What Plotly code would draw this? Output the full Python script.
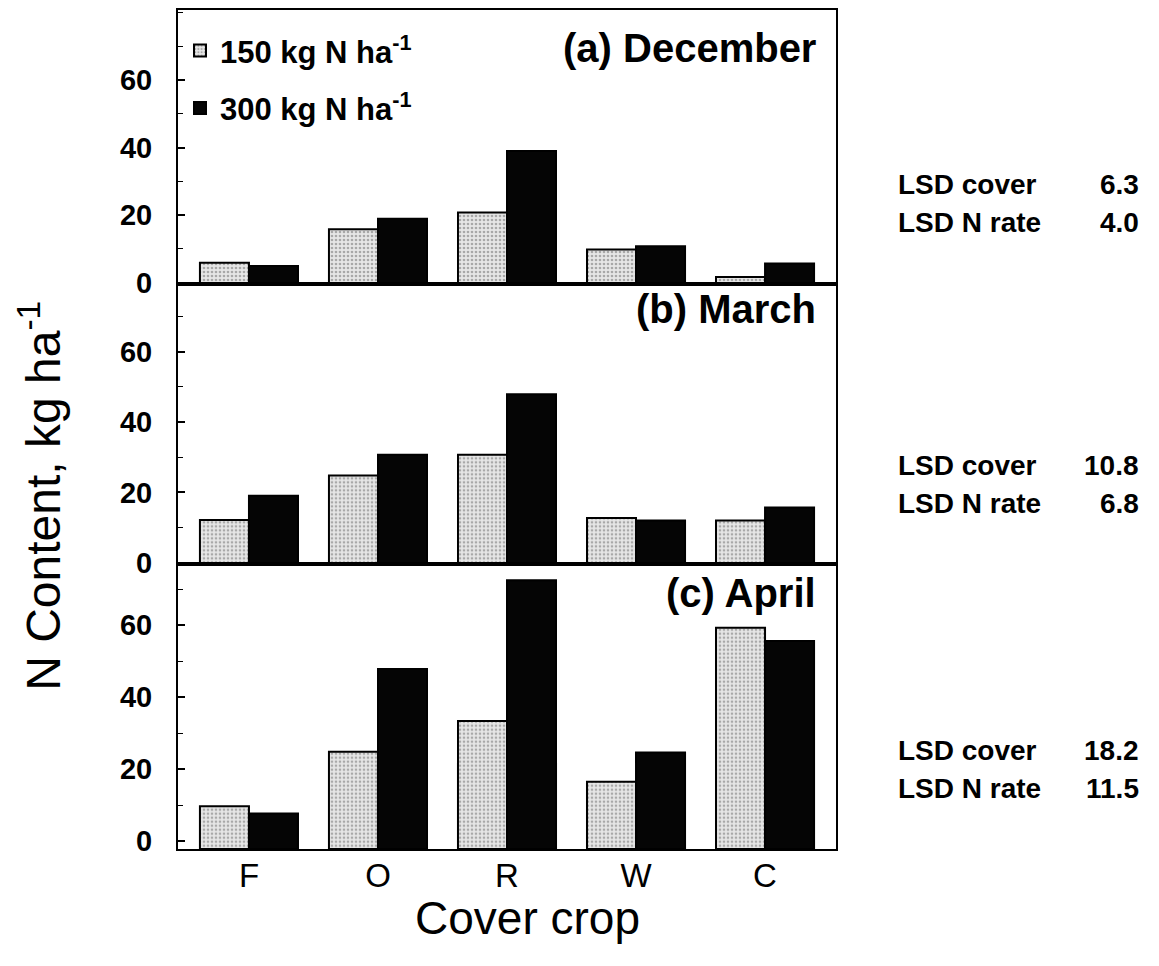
import plotly.graph_objects as go

# ---------------- data ----------------
categories = ["F", "O", "R", "W", "C"]
series_names = ["150 kg N ha<sup>-1</sup>", "300 kg N ha<sup>-1</sup>"]
panel_titles = ["(a) December", "(b) March", "(c) April"]

dec_150 = [5.9, 15.8, 20.8, 9.8, 1.7]
dec_300 = [4.9, 18.9, 39.0, 10.8, 5.7]
mar_150 = [12.1, 24.8, 30.7, 12.7, 12.0]
mar_300 = [19.0, 30.7, 47.9, 12.0, 15.7]
apr_150 = [9.7, 24.8, 33.4, 16.5, 59.3]
apr_300 = [7.7, 47.8, 72.5, 24.6, 55.6]

lsd_cover = [6.3, 10.8, 18.2]
lsd_nrate = [4.0, 6.8, 11.5]

y_ticks = [0, 20, 40, 60]

# ---------------- layout geometry ----------------
S = 8  # page offset of the figure inside the browser window
W, H = 1159 - S, 966 - S
L, R, T, B = 178 - S, 836 - S, 0, 849 - S
pw, ph = R - L, B - T
panel_px = [(5, 283), (283, 563), (563, 849)]          # reference pixel rows
y_ranges = [(-0.5, 80.7), (-0.3, 79.2), (-2.2, 77.1)]
title_y_px = [46, 308, 592]

def py(p):
    p = max(p - S, 0)
    return (B - p) / ph

def px(p):
    return (p - S - L) / pw

FONT = "Liberation Sans"
fig = go.Figure()

panel_data = [(dec_150, dec_300), (mar_150, mar_300), (apr_150, apr_300)]
styles = [
    dict(color="#dcdcdc", line=dict(color="black", width=2),
         pattern=dict(shape=".", fgcolor="#6a6a6a", bgcolor="#e6e6e6", size=4, solidity=0.35)),
    dict(color="#050505", line=dict(color="black", width=2)),
]

for i, (s150, s300) in enumerate(panel_data):
    xa = "x" if i == 0 else f"x{i+1}"
    ya = "y" if i == 0 else f"y{i+1}"
    ymin = y_ranges[i][0]
    for j, vals in enumerate((s150, s300)):
        fig.add_trace(go.Bar(
            x=categories, y=[v - ymin for v in vals], base=ymin,
            name=series_names[j], marker=styles[j],
            showlegend=(i == 0), legendgroup=f"g{j}",
            xaxis=xa, yaxis=ya,
            customdata=vals, hovertemplate="%{x}: %{customdata}<extra></extra>",
        ))

axis_common = dict(showline=True, mirror=True, linecolor="black", linewidth=2,
                   showgrid=False, zeroline=False)

layout = dict(
    width=W, height=H,
    margin=dict(l=L, r=W - R, t=T, b=H - B),
    paper_bgcolor="white", plot_bgcolor="white",
    barmode="group", bargap=0.24, bargroupgap=0.0,
    font=dict(family=FONT, color="black"),
    legend=dict(x=px(180), y=py(22), xanchor="left", yanchor="top",
                font=dict(family=FONT, size=31, color="black", weight="bold"),
                bgcolor="rgba(0,0,0,0)", tracegroupgap=14, itemwidth=30),
    showlegend=True,
)

for i in range(3):
    top, bot = panel_px[i]
    xk = "xaxis" if i == 0 else f"xaxis{i+1}"
    yk = "yaxis" if i == 0 else f"yaxis{i+1}"
    ya = "y" if i == 0 else f"y{i+1}"
    layout[xk] = dict(axis_common, range=[-0.55, 4.55], anchor=ya,
                      domain=[0, 1], ticks="",
                      showticklabels=(i == 2),
                      tickfont=dict(family=FONT, size=33, color="black"),
                      ticklabelstandoff=-4)
    if i > 0:
        layout[xk]["matches"] = "x"
    layout[yk] = dict(axis_common, range=list(y_ranges[i]),
                      domain=[max(py(bot), 0), min(py(top), 1)],
                      anchor="x" if i == 0 else f"x{i+1}",
                      tickvals=y_ticks, ticks="inside", ticklen=7, tickwidth=1.5,
                      tickcolor="black",
                      minor=dict(dtick=10, tick0=0, ticks="inside", ticklen=5, tickwidth=1.2, tickcolor="black"),
                      tickfont=dict(family=FONT, size=29, color="black", weight="bold"),
                      ticklabelstandoff=18)

fig.update_layout(**layout)

# panel titles
for i in range(3):
    fig.add_annotation(text=panel_titles[i], xref="paper", yref="paper",
                       x=px(818), y=py(title_y_px[i]), xanchor="right", yanchor="middle",
                       showarrow=False, font=dict(family=FONT, size=40, color="black", weight="bold"))

# LSD texts
lsd_rows_px = [(183, 221), (465, 503), (750, 788)]
for i in range(3):
    y1, y2 = lsd_rows_px[i]
    for (label, val, yy) in (("LSD cover", lsd_cover[i], y1), ("LSD N rate", lsd_nrate[i], y2)):
        fig.add_annotation(text=label, xref="paper", yref="paper", x=px(896), y=py(yy),
                           xanchor="left", yanchor="middle", showarrow=False,
                           font=dict(family=FONT, size=28, color="black", weight="bold"))
        fig.add_annotation(text=f"{val:.1f}", xref="paper", yref="paper", x=px(1141), y=py(yy),
                           xanchor="right", yanchor="middle", showarrow=False,
                           font=dict(family=FONT, size=28, color="black", weight="bold"))

# axis titles
fig.add_annotation(text="N Content, kg ha<sup>-1</sup>", xref="paper", yref="paper",
                   x=px(40), y=py(495), textangle=-90, xanchor="center", yanchor="middle",
                   showarrow=False, font=dict(family=FONT, size=48, color="black"))
fig.add_annotation(text="Cover crop", xref="paper", yref="paper",
                   x=px(527), y=py(918), xanchor="center", yanchor="middle",
                   showarrow=False, font=dict(family=FONT, size=46, color="black"))

fig.write_html("out.html")
